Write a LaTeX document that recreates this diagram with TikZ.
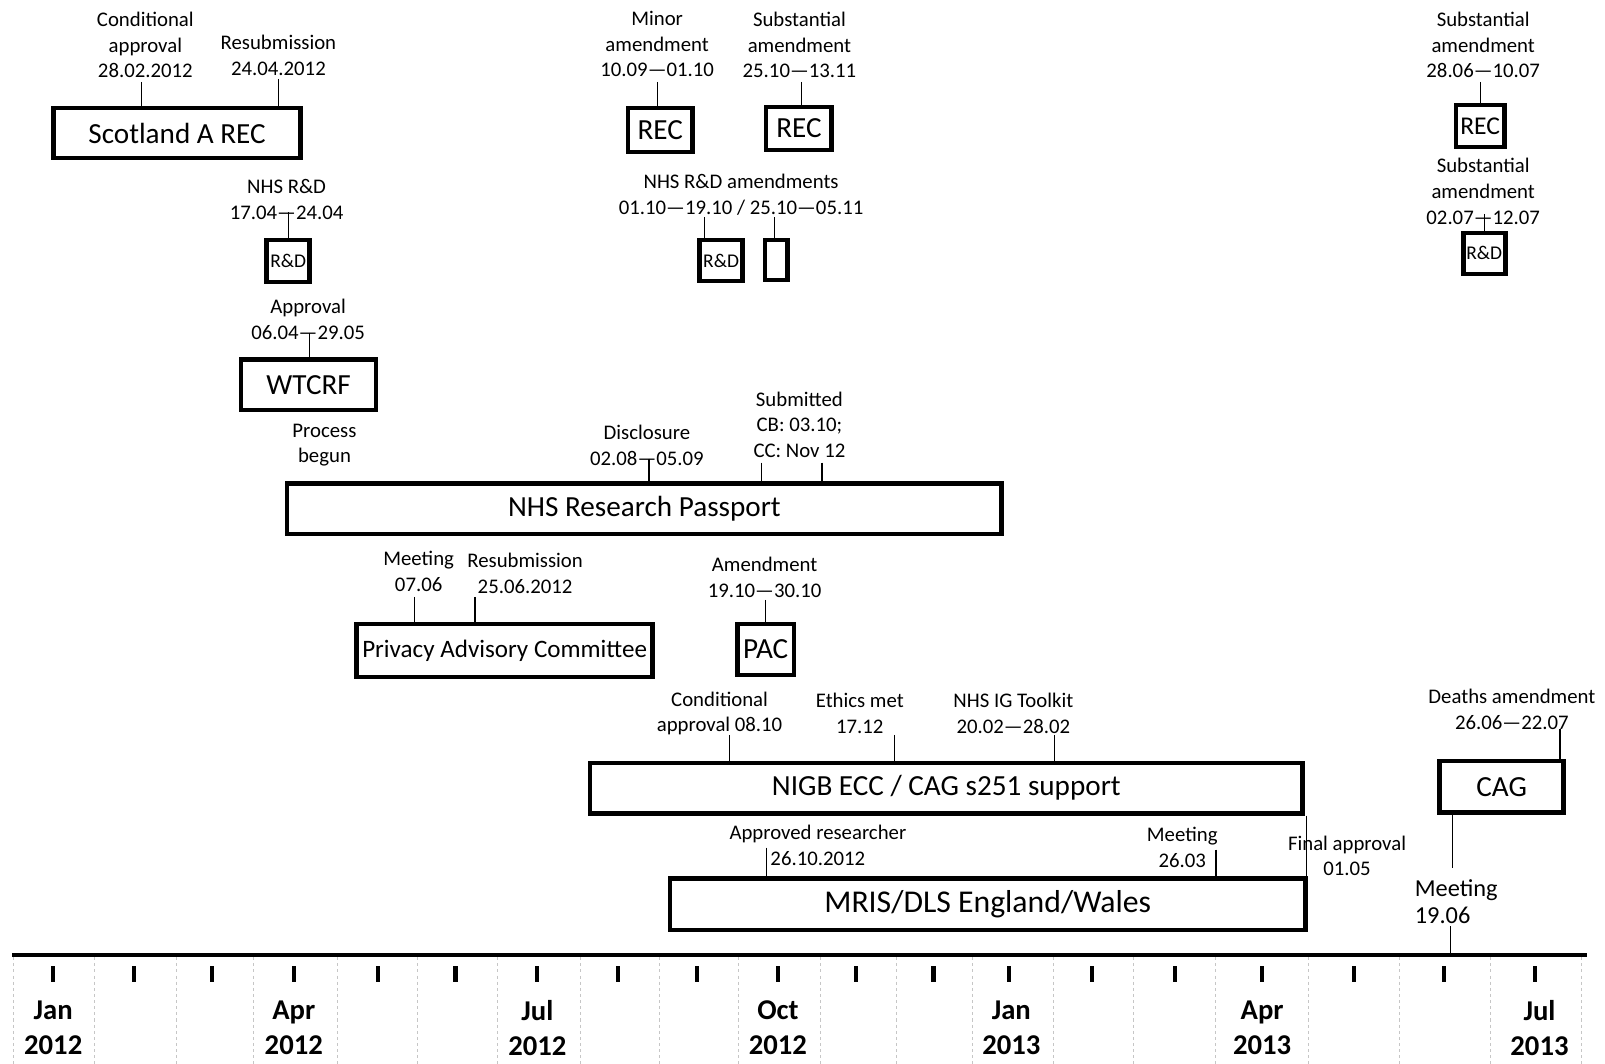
\documentclass[tikz,border=0pt]{standalone}
\usepackage{fontspec}
\setmainfont{Carlito}
\newcommand{\lblfont}{\fontsize{20.3bp}{25bp}\selectfont}
\newcommand{\bigfont}{\fontsize{28.5bp}{32bp}\selectfont}
\newcommand{\rdfont}{\fontsize{19bp}{21bp}\selectfont}
\newcommand{\monthfont}{\bfseries\fontsize{28bp}{34bp}\selectfont}

\begin{document}
\begin{tikzpicture}[x=1bp, y=-1bp]
    \tikzstyle{box}=[draw,line width=4.5bp,inner sep=0pt,font=\bigfont]
    \tikzstyle{rdbox}=[box,font=\rdfont]
    \tikzstyle{lbl}=[align=center,inner sep=0pt,font=\lblfont]
    \tikzstyle{tick}=[line width=1.2bp]
    \tikzstyle{monthtick}=[line width=4bp]
    \tikzstyle{grid}=[gray!45,line width=0.6bp,dash pattern=on 3bp off 3bp]
    \tikzstyle{month}=[align=center,inner sep=0pt,font=\monthfont]
    \useasboundingbox (0,0) rectangle (1568,1039);

    % boxes
    \node[box,minimum width=241bp,minimum height=49bp] (scot)  at (173,130)   {Scotland A REC};
    \node[rdbox,minimum width=42bp,minimum height=41bp] (rd1)  at (281.5,255) {R\&D};
    \node[box,minimum width=132bp,minimum height=49bp] (wtcrf) at (301.5,376) {WTCRF};
    \node[box,minimum width=63bp,minimum height=43bp]  (rec1)  at (645,127)   {REC};
    \node[box,minimum width=64bp,minimum height=42bp]  (rec2)  at (780.5,125.5) {REC};
    \node[rdbox,minimum width=42bp,minimum height=40bp] (rd2)  at (704.5,254.5) {R\&D};
    \node[rdbox,minimum width=22bp,minimum height=39bp] (rd3)  at (758.5,254) {};
    \node[box,minimum width=47bp,minimum height=41bp,font=\fontsize{25bp}{30bp}\selectfont] (rec3) at (1446,123) {REC};
    \node[rdbox,minimum width=41bp,minimum height=40bp] (rd4)  at (1450,247.5) {R\&D};
    \node[box,minimum width=698bp,minimum height=49bp] (nrp)   at (629.5,497) {NHS Research Passport};
    \node[box,minimum width=289bp,minimum height=52bp,font=\fontsize{24.5bp}{30bp}\selectfont] (privacy) at (493,635.5) {Privacy Advisory Committee};
    \node[box,minimum width=55bp,minimum height=50bp]  (pac)   at (748,634.5) {PAC};
    \node[box,minimum width=696bp,minimum height=49bp] (nigb)  at (924.5,770) {NIGB ECC / CAG s251 support};
    \node[box,minimum width=121bp,minimum height=50bp] (cag)   at (1467,768.5) {CAG};
    \node[box,minimum width=621bp,minimum height=50bp,font=\fontsize{31bp}{34bp}\selectfont] (mris) at (965,883.5) {MRIS/DLS England/Wales};

    % labels
    \node[lbl] (l1)  at (142,44)   {Conditional\\approval\\28.02.2012};
    \node[lbl] (l2)  at (272,54)   {Resubmission\\24.04.2012};
    \node[lbl] (l3)  at (280,195)  {NHS R\&D\\17.04---24.04};
    \node[lbl] (l4)  at (301,312)  {Approval\\06.04---29.05};
    \node[lbl] (l5)  at (642,43)   {Minor\\amendment\\10.09---01.10};
    \node[lbl] (l6)  at (781,44)   {Substantial\\amendment\\25.10---13.11};
    \node[lbl] (l7)  at (724,190)  {NHS R\&D amendments\\01.10---19.10 / 25.10---05.11};
    \node[lbl] (l8)  at (1449,44)  {Substantial\\amendment\\28.06---10.07};
    \node[lbl] (l9)  at (1449,187) {Substantial\\amendment\\02.07---12.07};
    \node[lbl] (l10) at (317,435)  {Process\\begun};
    \node[lbl] (l11) at (632,435)  {Disclosure\\02.08---05.09};
    \node[lbl] (l12) at (781,415)  {Submitted\\CB: 03.10;\\CC: Nov 12};
    \node[lbl] (l13) at (409,558)  {Meeting\\07.06};
    \node[lbl] (l14) at (513,560)  {Resubmission\\25.06.2012};
    \node[lbl] (l15) at (747,564)  {Amendment\\19.10---30.10};
    \node[lbl] (l16) at (703,697)  {Conditional\\approval 08.10};
    \node[lbl] (l17) at (840,697)  {Ethics met\\17.12};
    \node[lbl] (l18) at (990,697)  {NHS IG Toolkit\\20.02---28.02};
    \node[lbl] (l19) at (1477,693) {Deaths amendment\\26.06---22.07};
    \node[lbl] (l20) at (799,826)  {Approved researcher\\26.10.2012};
    \node[lbl] (l21) at (1155,828) {Meeting\\26.03};
    \node[lbl] (l22) at (1316,836) {Final approval\\01.05};
    \node[lbl,align=left,anchor=west,font=\fontsize{23.8bp}{27bp}\selectfont] (l23) at (1382,881) {Meeting\\19.06};

    % ticks
    \coordinate (t1) at (138,80);   \draw[tick] (t1) -- (t1 |- scot.north);
    \coordinate (t2) at (272,77);   \draw[tick] (t2) -- (t2 |- scot.north);
    \coordinate (t3) at (282,207);  \draw[tick] (t3) -- (t3 |- rd1.north);
    \coordinate (t4) at (302,325);  \draw[tick] (t4) -- (t4 |- wtcrf.north);
    \coordinate (t5) at (642,80);   \draw[tick] (t5) -- (t5 |- rec1.north);
    \coordinate (t6) at (783,80);   \draw[tick] (t6) -- (t6 |- rec2.north);
    \coordinate (t7) at (688,212);  \draw[tick] (t7) -- (t7 |- rd2.north);
    \coordinate (t8) at (757,212);  \draw[tick] (t8) -- (t8 |- rd3.north);
    \coordinate (t9) at (1446,80);  \draw[tick] (t9) -- (t9 |- rec3.north);
    \coordinate (t10) at (1450,209); \draw[tick] (t10) -- (t10 |- rd4.north);
    \coordinate (t11) at (634,448); \draw[tick] (t11) -- (t11 |- nrp.north);
    \coordinate (t12) at (744,452); \draw[tick] (t12) -- (t12 |- nrp.north);
    \coordinate (t13) at (803,452); \draw[tick] (t13) -- (t13 |- nrp.north);
    \coordinate (t14) at (405,583); \draw[tick] (t14) -- (t14 |- privacy.north);
    \coordinate (t15) at (464,583); \draw[tick] (t15) -- (t15 |- privacy.north);
    \coordinate (t16) at (748,586); \draw[tick] (t16) -- (t16 |- pac.north);
    \coordinate (t17) at (713,718); \draw[tick] (t17) -- (t17 |- nigb.north);
    \coordinate (t18) at (874,718); \draw[tick] (t18) -- (t18 |- nigb.north);
    \coordinate (t19) at (1030,718); \draw[tick] (t19) -- (t19 |- nigb.north);
    \coordinate (t20) at (1524,712); \draw[tick] (t20) -- (t20 |- cag.north);
    \coordinate (t21) at (749,828); \draw[tick] (t21) -- (t21 |- mris.north);
    \coordinate (t22) at (1188,830); \draw[tick] (t22) -- (t22 |- mris.north);
    \coordinate (t23) at (1276,0);  \draw[tick] (t23 |- nigb.south) -- (t23 |- mris.north);

    % time axis
    \coordinate (axl) at (12,933);
    \coordinate (axr) at (1550,933);
    \draw[line width=3bp] (axl) -- (axr);
    \coordinate (t24) at (1419,848); \draw[tick] (t24 |- cag.south) -- (t24);
    \coordinate (t25) at (1417,905); \draw[tick] (t25) -- (t25 |- axr);
    \foreach \x in {13,92,172,247,330,408,486,567,644,721,801,876,950,1029,1107,1187,1278,1367,1456,1545}
        \draw[grid] (\x,935) -- (\x,1039);
    \foreach \x in {52,131,207,287,369,445,525,604,681,760,836,912,986,1067,1148,1233,1323,1411,1500}
        \draw[monthtick] (\x,944) -- (\x,959);
    \foreach \x/\m/\y in {52/Jan/2012,287/Apr/2012,525/Jul/2012,760/Oct/2012,988/Jan/2013,1233/Apr/2013,1504/Jul/2013}
        \node[month] (m\x) at (\x,1004) {\m\\\y};
\end{tikzpicture}
\end{document}
